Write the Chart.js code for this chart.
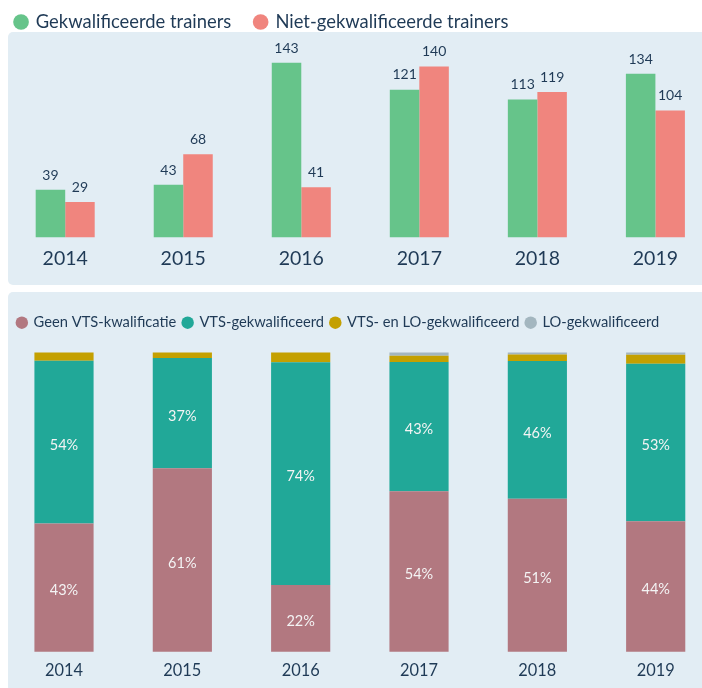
<!DOCTYPE html>
<html>
<head>
<meta charset="utf-8">
<script src="https://cdn.jsdelivr.net/npm/chart.js@4.4.1/dist/chart.umd.min.js"></script>
<style>
  html, body { margin: 0; padding: 0; background: #fff; overflow: hidden; width: 702px; height: 688px; }
  .panel { position: absolute; left: 8px; width: 700px; background: #e2edf4; border-radius: 5px; }
  #p1 { top: 32px; height: 253px; }
  #p2 { top: 292px; height: 400px; }
  canvas { position: absolute; left: 0; }
  #c1 { top: 0; width: 702px; height: 285px; }
  #c2 { top: 292px; width: 702px; height: 406px; }
</style>
</head>
<body>
<div class="panel" id="p1"></div>
<div class="panel" id="p2"></div>
<canvas id="c1" width="702" height="285"></canvas>
<canvas id="c2" width="702" height="406"></canvas>
<script>
const years = ['2014', '2015', '2016', '2017', '2018', '2019'];

// aantallen trainers
const gekwalificeerd = [39, 43, 143, 121, 113, 134];
const nietGekwalificeerd = [29, 68, 41, 140, 119, 104];

// aandeel (%) per kwalificatie
const geenVts = [42.8, 61.3, 22.3, 53.6, 51.1, 43.6];
const vtsGekw = [54.4, 36.8, 74.4, 43.2, 46.0, 52.6];
const vtsEnLo = [2.8, 1.9, 3.3, 2.1, 2.2, 3.0];
const loGekw = [0, 0, 0, 1.1, 0.7, 0.8];

const textColor = '#1f3a56';
Chart.defaults.font.family = "Lato, 'Open Sans', sans-serif";
Chart.defaults.color = textColor;

// extra ruimte onder de legenda
function legendGap(px) {
    return {
        id: 'legendGap',
        beforeInit(chart) {
            const fit = chart.legend.fit;
            chart.legend.fit = function () {
                fit.bind(chart.legend)();
                this.height += px;
            };
        }
    };
}

// getallen boven de staven
const topValues = {
    id: 'topValues',
    afterDatasetsDraw(chart) {
        const ctx = chart.ctx;
        ctx.save();
        ctx.font = '14px Lato';
        ctx.fillStyle = textColor;
        ctx.textAlign = 'center';
        ctx.textBaseline = 'middle';
        chart.data.datasets.forEach((ds, i) => {
            chart.getDatasetMeta(i).data.forEach((bar, j) => {
                ctx.fillText(ds.data[j], bar.x, bar.y - 14.7);
            });
        });
        ctx.restore();
    }
};

// percentages in de segmenten
const pctValues = {
    id: 'pctValues',
    afterDatasetsDraw(chart) {
        const ctx = chart.ctx;
        ctx.save();
        ctx.font = '14.5px Lato';
        ctx.fillStyle = '#f4f4f4';
        ctx.textAlign = 'center';
        ctx.textBaseline = 'middle';
        [0, 1].forEach(i => {
            const ds = chart.data.datasets[i];
            chart.getDatasetMeta(i).data.forEach((bar, j) => {
                const p = bar.getProps(['x', 'y', 'base'], true);
                ctx.fillText(Math.round(ds.data[j]) + '%', p.x, (p.y + p.base) / 2 + 3);
            });
        });
        ctx.restore();
    }
};

const hidden = { display: false, drawTicks: false };

// onzichtbare as die alleen ruimte inneemt
function spacer(position, width) {
    return {
        type: 'linear',
        axis: 'y',
        position: position,
        display: true,
        ticks: { display: false },
        grid: hidden,
        border: { display: false },
        afterFit: s => { s.width = width; }
    };
}

new Chart(document.getElementById('c1'), {
    type: 'bar',
    data: {
        labels: years,
        datasets: [
            { label: 'Gekwalificeerde trainers', data: gekwalificeerd, backgroundColor: '#66c48a' },
            { label: 'Niet-gekwalificeerde trainers', data: nietGekwalificeerd, backgroundColor: '#f0857e' }
        ]
    },
    options: {
        responsive: false,
        animation: false,
        layout: { padding: { left: 5.5, right: 0, top: 2.8, bottom: 4.3 } },
        datasets: { bar: { categoryPercentage: 0.5, barPercentage: 1, clip: false } },
        scales: {
            x: {
                offset: false,
                grid: hidden,
                border: { display: false },
                ticks: { color: textColor, font: { size: 19.5 }, padding: 10 }
            },
            y: Object.assign(spacer('left', 59.7), { min: 0, max: 160 }),
            yRight: spacer('right', 46.6)
        },
        plugins: {
            legend: {
                align: 'start',
                labels: {
                    usePointStyle: true,
                    pointStyle: 'circle',
                    boxWidth: 11.1,
                    boxHeight: 11.1,
                    padding: 10,
                    color: textColor,
                    font: { size: 18.4 },
                    generateLabels(chart) {
                        const items = Chart.defaults.plugins.legend.labels.generateLabels(chart);
                        items[0].text += '\u2003';
                        return items;
                    }
                }
            },
            tooltip: { enabled: false }
        }
    },
    plugins: [topValues, legendGap(0.9)]
});

new Chart(document.getElementById('c2'), {
    type: 'bar',
    data: {
        labels: years,
        datasets: [
            { label: 'Geen VTS-kwalificatie', data: geenVts, backgroundColor: '#b27880' },
            { label: 'VTS-gekwalificeerd', data: vtsGekw, backgroundColor: '#21a898' },
            { label: 'VTS- en LO-gekwalificeerd', data: vtsEnLo, backgroundColor: '#c4a000' },
            { label: 'LO-gekwalificeerd', data: loGekw, backgroundColor: '#a3b6bf' }
        ]
    },
    options: {
        responsive: false,
        animation: false,
        layout: { padding: { left: 10.5, right: 0, top: 16.45, bottom: 8.6 } },
        datasets: { bar: { categoryPercentage: 0.5, barPercentage: 1, clip: false } },
        scales: {
            x: {
                stacked: true,
                offset: false,
                grid: hidden,
                border: { display: false },
                ticks: { color: textColor, font: { size: 16.4 }, padding: 9 }
            },
            y: Object.assign(spacer('left', 53.5), { stacked: true, min: 0, max: 100 }),
            yRight: spacer('right', 46.3)
        },
        plugins: {
            legend: {
                align: 'start',
                labels: {
                    usePointStyle: true,
                    pointStyle: 'circle',
                    boxWidth: 8.84,
                    boxHeight: 8.84,
                    padding: 6.9,
                    color: textColor,
                    font: { size: 14.7 }
                }
            },
            tooltip: { enabled: false }
        }
    },
    plugins: [pctValues, legendGap(12.35)]
});
</script>
</body>
</html>
